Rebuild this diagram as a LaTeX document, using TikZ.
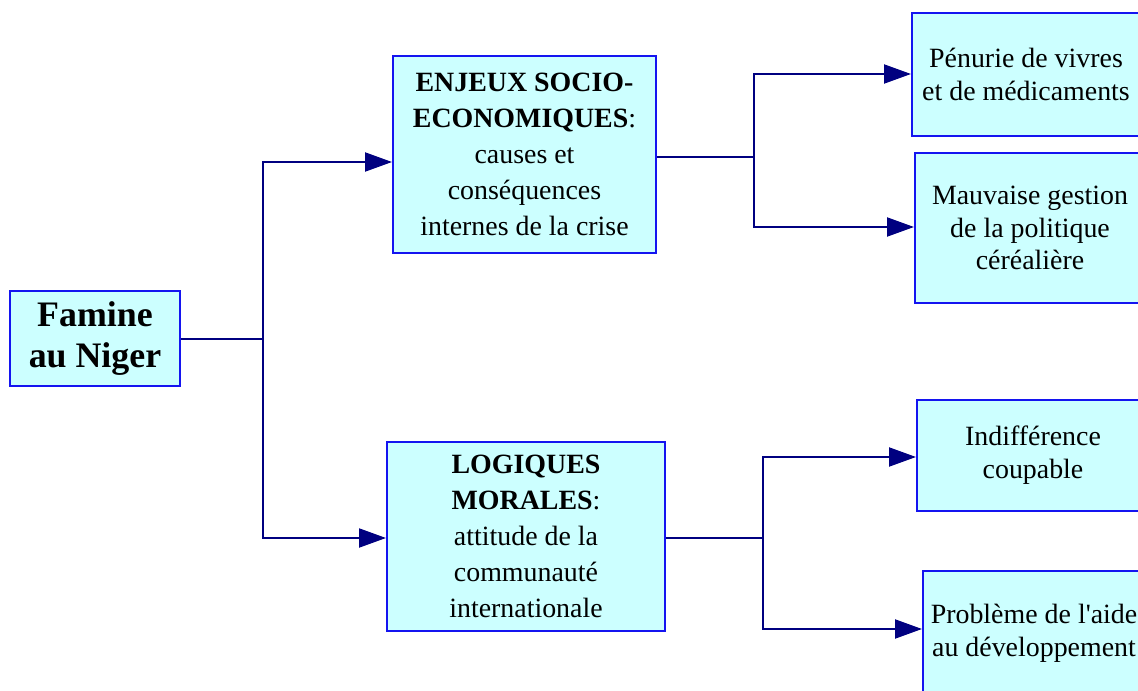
\documentclass[tikz,border=0pt]{standalone}
\usepackage{fontspec}
\setmainfont{Liberation Serif}
\usetikzlibrary{arrows.meta}

\definecolor{boxfill}{HTML}{CCFFFF}
\definecolor{boxline}{HTML}{1414F0}
\definecolor{linkcol}{HTML}{000080}

\begin{document}
\begin{tikzpicture}[
            x=1bp, y=-1bp,
            box/.style={draw=boxline, fill=boxfill, line width=2bp, align=center,
                inner sep=0pt, font=\fontsize{28}{33}\selectfont},
            midbox/.style={box, font=\fontsize{28}{36}\selectfont},
            rootbox/.style={box, font=\fontsize{36}{41}\selectfont\bfseries},
            link/.style={draw=linkcol, line width=2bp},
            arr/.style={link, -{Triangle[length=27bp, width=19bp]}},
        ]
            \useasboundingbox (0, 0) rectangle (1138, 691);
            \clip (0, 0) rectangle (1138, 691);

            %% root and the two themes
            \node[rootbox, minimum width=170bp, minimum height=95bp]
                (famine) at (95, 338.5) {Famine\\au Niger};
            \node[midbox, minimum width=263bp, minimum height=197bp]
                (enjeux) at (524.5, 154.5)
                {\textbf{ENJEUX SOCIO-}\\\textbf{ECONOMIQUES}:\\causes et\\conséquences\\internes de la crise};
            \node[midbox, minimum width=278bp, minimum height=189bp]
                (logiques) at (526, 536.5)
                {\textbf{LOGIQUES}\\\textbf{MORALES}:\\attitude de la\\communauté\\internationale};

            %% leaves, cut by the right edge
            \node[box, minimum width=228bp, minimum height=123bp]
                (penurie) at (1026, 74.5) {Pénurie de vivres\\et de médicaments};
            \node[box, minimum width=230bp, minimum height=150bp]
                (gestion) at (1030, 228) {Mauvaise gestion\\de la politique\\céréalière};
            \node[box, minimum width=232bp, minimum height=111bp]
                (indiff) at (1033, 455.5) {Indifférence\\coupable};
            \node[box, minimum width=222bp, minimum height=124bp]
                (aide) at (1034, 633) {Problème de l\textquotesingle aide\\au développement};

            %% connectors
            \draw[arr] (famine.east) -- ++(82, 0) |- ([yshift=-7.5bp]enjeux.west);
            \draw[arr] (famine.east) -- ++(82, 0) |- ([yshift=-1.5bp]logiques.west);
            \draw[arr] ([yshift=-2.5bp]enjeux.east) -- ++(97, 0) |- ([yshift=.5bp]penurie.west);
            \draw[arr] ([yshift=-2.5bp]enjeux.east) -- ++(97, 0) |- ([yshift=1bp]gestion.west);
            \draw[arr] ([yshift=-1.5bp]logiques.east) -- ++(97, 0) |- ([yshift=-1.5bp]indiff.west);
            \draw[arr] ([yshift=-1.5bp]logiques.east) -- ++(97, 0) |- ([yshift=4bp]aide.west);
        \end{tikzpicture}
\end{document}
